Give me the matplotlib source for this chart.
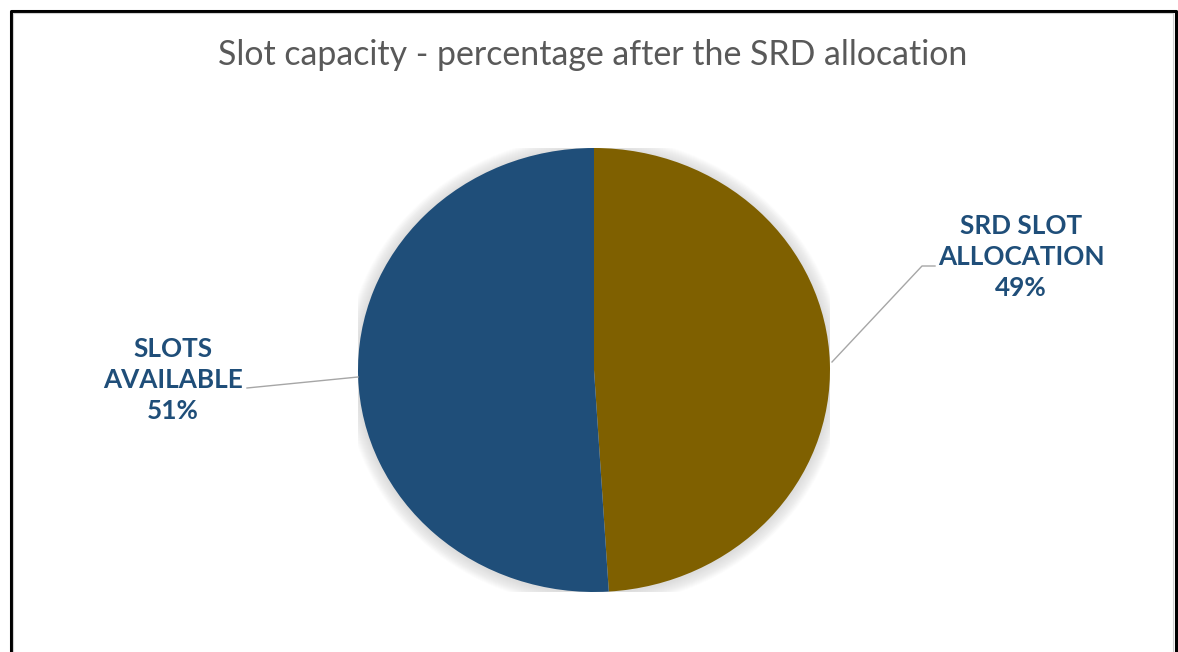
import numpy as np
import matplotlib.pyplot as plt
from matplotlib.patches import Ellipse
from matplotlib.lines import Line2D

labels = ['SRD SLOT\nALLOCATION', 'SLOTS\nAVAILABLE']
shares = [49, 51]
colors = ['#7F6000', '#1F4E79']

W, H = 1178, 652
fig = plt.figure(figsize=(W / 100, H / 100), dpi=100)
fig.patch.set_facecolor('white')

# pie box in pixels (left, top, right, bottom); the pie is slightly wider than tall
px0, py0, px1, py1 = 358, 148, 830, 592
ax = fig.add_axes([px0 / W, 1 - py1 / H, (px1 - px0) / W, (py1 - py0) / H])
ax.set_xlim(-1, 1)
ax.set_ylim(-1, 1)
ax.axis('off')

# soft glow behind the pie
for i in range(14, 0, -1):
    ax.add_patch(Ellipse((0, -0.005), 2 + i * 0.008, 2 + i * 0.0085,
                         facecolor='#9a9a9a', edgecolor='none',
                         alpha=0.022, zorder=0))

wedges, _ = ax.pie(shares, colors=colors, startangle=90, counterclock=False,
                   radius=1, wedgeprops=dict(linewidth=0, zorder=2))
ax.set_aspect('auto')
ax.set_xlim(-1, 1)
ax.set_ylim(-1, 1)

lbl_font = dict(family='Lato', fontweight='bold', fontsize=18.8,
                color='#1F4E79', ha='center', va='center', linespacing=1.36)

def to_data(x, y):
    return (x - (px0 + px1) / 2) / ((px1 - px0) / 2), ((py0 + py1) / 2 - y) / ((py1 - py0) / 2)

# labels with leader lines
txt_r = to_data(1021, 257)
ax.text(*txt_r, '%s\n%d%%' % (labels[0], shares[0]), clip_on=False, **lbl_font)
lr = [to_data(832, 362), to_data(922, 266), to_data(935, 266)]
ax.plot([p[0] for p in lr], [p[1] for p in lr], color='#a6a6a6', lw=1.0,
        clip_on=False, zorder=3)

txt_l = to_data(173, 380)
ax.text(*txt_l, '%s\n%d%%' % (labels[1], shares[1]), clip_on=False, **lbl_font)
ll = [to_data(247, 388), to_data(358, 377)]
ax.plot([p[0] for p in ll], [p[1] for p in ll], color='#a6a6a6', lw=1.0,
        clip_on=False, zorder=3)

fig.text(593 / W, 1 - 55 / H, 'Slot capacity - percentage after the SRD allocation',
         family='Lato', fontsize=24.4, color='#595959', ha='center', va='center')

# chart frame (open at the bottom)
frame_x = [10.5 / W, 10.5 / W, 1175.5 / W, 1175.5 / W]
frame_y = [0, 1 - 10.5 / H, 1 - 10.5 / H, 0]
fig.add_artist(Line2D(frame_x, frame_y, color='black', lw=2.2,
                      transform=fig.transFigure))
fig.add_artist(Line2D([13 / W, 13 / W, 1173 / W, 1173 / W],
                      [0, 1 - 13 / H, 1 - 13 / H, 0], color='#d0d0d0', lw=0.8,
                      transform=fig.transFigure))

fig.savefig('out.png', dpi=100)
